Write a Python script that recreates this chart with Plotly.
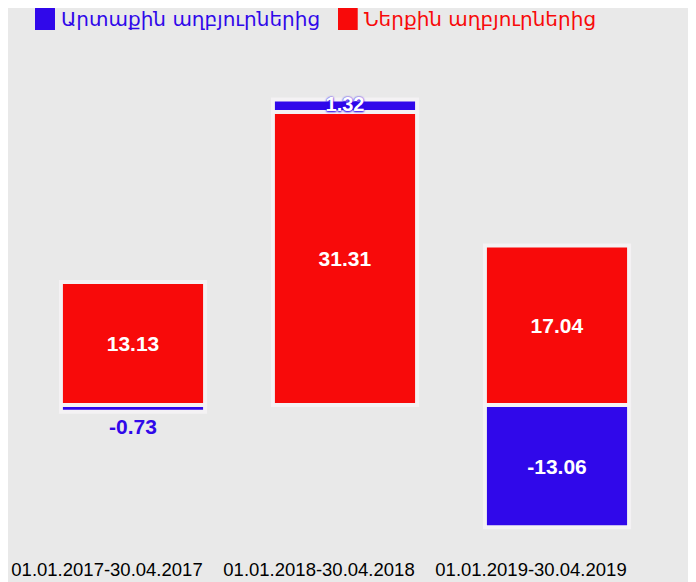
import plotly.graph_objects as go

categories = ["01.01.2017-30.04.2017", "01.01.2018-30.04.2018", "01.01.2019-30.04.2019"]
internal_name = "Ներքին աղբյուրներից"
external_name = "Արտաքին աղբյուրներից"
internal_values = [13.13, 31.31, 17.04]
external_values = [-0.73, 1.32, -13.06]

RED = "#f80a0a"
BLUE = "#3008ea"
BG = "#e9e9e9"
LBL_FONT = "Liberation Sans, Arial"
ARM_FONT = "DejaVu Sans, Noto Sans"

fig = go.Figure()
fig.add_trace(go.Bar(
    x=categories, y=internal_values, name=internal_name,
    marker=dict(color=RED, line=dict(color="#f4f2f4", width=4)),
    text=[f"{v:.2f}" for v in internal_values], textposition="inside",
    insidetextanchor="middle",
    textfont=dict(family=LBL_FONT, size=21, color="white", weight="bold"),
    showlegend=False,
))
# external bar labels: negative ones via the bar, small positive stacked one via overlay
ext_text = [f"{v:.2f}" if v < 0 else "" for v in external_values]
ext_pos = ["outside" if abs(v) < 1 else "inside" for v in external_values]
fig.add_trace(go.Bar(
    x=categories, y=external_values, name=external_name,
    marker=dict(color=BLUE, line=dict(color="#f4f2f4", width=4)),
    text=ext_text, textposition=ext_pos,
    insidetextanchor="middle",
    textfont=dict(family=LBL_FONT, size=21, color="white", weight="bold"),
    outsidetextfont=dict(family=LBL_FONT, size=21, color=BLUE, weight="bold"),
    insidetextfont=dict(family=LBL_FONT, size=21, color="white", weight="bold"),
    cliponaxis=False,
    showlegend=False,
))
pos_idx = [i for i, v in enumerate(external_values) if v > 0]
fig.add_trace(go.Scatter(
    x=[categories[i] for i in pos_idx],
    y=[internal_values[i] + external_values[i] / 2 for i in pos_idx],
    text=[f"{external_values[i]:.2f}" for i in pos_idx],
    mode="text", textposition="middle center",
    textfont=dict(family=LBL_FONT, size=20, color="white", weight="bold",
                  shadow="0px 0px 2px #3008ea, 0px 1px 2px #3008ea"),
    cliponaxis=False, showlegend=False, hoverinfo="skip",
))

fig.update_layout(
    width=688, height=574,
    barmode="relative", bargap=0.32,
    paper_bgcolor=BG, plot_bgcolor=BG,
    margin=dict(l=19, r=33, t=32, b=32),
    uniformtext=dict(mode="show", minsize=20),
    xaxis=dict(showgrid=False, zeroline=False, showline=False, ticks="",
               ticklabelshift=-26, ticklabelstandoff=6, automargin=False,
               tickfont=dict(family=LBL_FONT, size=18.5, color="black")),
    yaxis=dict(range=[-15.5, 39.0], showgrid=False, zeroline=False,
               showticklabels=False, showline=False, ticks="", automargin=False),
    shapes=[
        dict(type="rect", xref="paper", yref="paper", x0=0.0126, x1=0.044,
             y0=1.0196, y1=1.0627, fillcolor=BLUE, line=dict(width=0)),
        dict(type="rect", xref="paper", yref="paper", x0=0.489, x1=0.520,
             y0=1.0196, y1=1.0627, fillcolor=RED, line=dict(width=0)),
    ],
    annotations=[
        dict(text=external_name, xref="paper", yref="paper", x=0.05, y=1.041,
             xanchor="left", yanchor="middle", showarrow=False,
             font=dict(family=ARM_FONT, size=20, color=BLUE)),
        dict(text=internal_name, xref="paper", yref="paper", x=0.527, y=1.041,
             xanchor="left", yanchor="middle", showarrow=False,
             font=dict(family=ARM_FONT, size=20, color=RED)),
    ],
)

fig.write_html("out.html")
